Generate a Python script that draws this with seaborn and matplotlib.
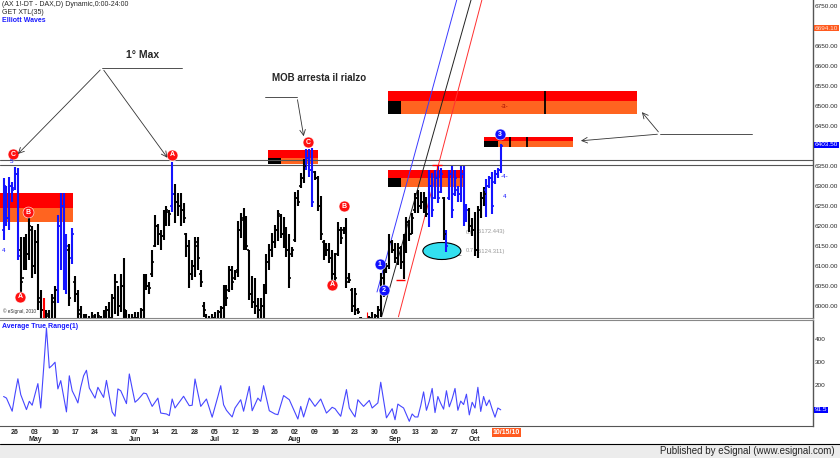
import numpy as np
import pandas as pd
import seaborn as sns
import matplotlib.pyplot as plt
from matplotlib.patches import Rectangle, Ellipse
from matplotlib.transforms import blended_transform_factory as blend

# daily bars (one bar per calendar day from Apr 22 2010)
dates = pd.date_range("2010-04-22", periods=175, freq="D")

highs = [6320, 6300, 6322, 6310, 6348, 6345, 6172, 6172, 6180, 6222,
         6200, 6190, 6205, 6040, 6020, 5990, 5990, 6030, 6050, 6227,
         6282, 6282, 6180, 6155, 6195, 6075, 6040, 6000, 5980, 5980,
         5975, 5985, 5980, 5985, 5975, 5990, 6000, 6010, 6030, 6080,
         6050, 6080, 6120, 5990, 5980, 5980, 5985, 5985, 5995, 6080,
         6080, 6060, 6140, 6227, 6205, 6190, 6240, 6250, 6240, 6360,
         6305, 6282, 6282, 6257, 6182, 6165, 6115, 6172, 6172, 6090,
         6010, 5980, 5975, 5980, 5985, 5990, 6000, 6052, 6052, 6100,
         6100, 6090, 6212, 6232, 6245, 6225, 6140, 6075, 6070, 6020,
         6020, 6055, 6130, 6155, 6182, 6202, 6240, 6230, 6222, 6197,
         6180, 6147, 6285, 6290, 6332, 6367, 6392, 6392, 6395, 6337,
         6325, 6275, 6165, 6157, 6157, 6140, 6132, 6210, 6197, 6197,
         6220, 6082, 6045, 6045, 5995, 5972, 5965, 5965, 5975, 5985,
         5980, 6000, 6082, 6107, 6107, 6180, 6165, 6157, 6157, 6150,
         6180, 6222, 6215, 6232, 6282, 6290, 6285, 6285, 6272, 6340,
         6332, 6340, 6350, 6345, 6272, 6190, 6340, 6350, 6340, 6300,
         6350, 6350, 6255, 6245, 6220, 6235, 6250, 6285, 6297, 6317,
         6325, 6335, 6340, 6345, 6405]
lows = [6165, 6200, 6190, 6260, 6290, 6115, 6030, 6090, 6090, 6115,
        6070, 6080, 5990, 5950, 5950, 5950, 5940, 5950, 5960, 6007,
        6090, 6040, 6030, 6000, 6105, 6010, 5960, 5950, 5940, 5930,
        5930, 5945, 5940, 5940, 5940, 5950, 5950, 5950, 5960, 5980,
        5975, 5985, 5970, 5940, 5930, 5945, 5940, 5950, 5960, 5970,
        6040, 6030, 6072, 6147, 6152, 6140, 6165, 6200, 6200, 6235,
        6207, 6225, 6200, 6207, 6122, 6045, 6065, 6072, 6090, 6047,
        5972, 5940, 5935, 5940, 5945, 5950, 5965, 5970, 6000, 6035,
        6040, 6065, 6072, 6170, 6140, 6140, 6015, 5995, 5980, 5970,
        5970, 5970, 6030, 6090, 6122, 6145, 6162, 6170, 6145, 6122,
        6045, 6122, 6160, 6250, 6295, 6307, 6340, 6322, 6247, 6315,
        6237, 6165, 6115, 6125, 6107, 6057, 6057, 6125, 6155, 6180,
        6045, 6057, 5985, 5977, 5980, 5950, 5940, 5940, 5945, 5950,
        5950, 5960, 5972, 6022, 6082, 6092, 6132, 6107, 6102, 6092,
        6067, 6132, 6162, 6180, 6232, 6232, 6242, 6232, 6222, 6197,
        6222, 6267, 6257, 6282, 6165, 6135, 6265, 6220, 6275, 6260,
        6260, 6200, 6210, 6185, 6175, 6125, 6120, 6220, 6250, 6222,
        6295, 6230, 6305, 6320, 6332]
opens = [6190, 6290, 6220, 6300, 6295, 6330, 6140, 6070, 6150, 6130,
         6190, 6100, 6160, 6020, 5990, 5960, 5975, 5960, 6010, 6040,
         6200, 6250, 6070, 6140, 6120, 6060, 6030, 5990, 5960, 5950,
         5960, 5950, 5970, 5945, 5970, 5955, 5980, 5990, 5970, 6020,
         6060, 6000, 6050, 5985, 5950, 5960, 5960, 5970, 5960, 5990,
         6060, 6050, 6080, 6150, 6200, 6180, 6175, 6220, 6235, 6250,
         6280, 6260, 6250, 6240, 6180, 6150, 6080, 6100, 6150, 6080,
         6000, 5975, 5950, 5960, 5970, 5960, 5985, 5995, 6040, 6040,
         6090, 6070, 6090, 6190, 6215, 6210, 6140, 6030, 6010, 6000,
         5990, 6000, 6040, 6110, 6140, 6160, 6190, 6225, 6180, 6160,
         6140, 6130, 6165, 6270, 6300, 6320, 6350, 6370, 6340, 6335,
         6320, 6250, 6160, 6130, 6140, 6120, 6080, 6130, 6190, 6190,
         6190, 6070, 6040, 6000, 5990, 5970, 5960, 5950, 5950, 5970,
         5960, 5975, 5990, 6070, 6085, 6100, 6160, 6140, 6120, 6145,
         6110, 6160, 6210, 6180, 6240, 6270, 6250, 6260, 6240, 6230,
         6300, 6270, 6320, 6285, 6270, 6180, 6270, 6330, 6280, 6290,
         6280, 6330, 6220, 6240, 6200, 6190, 6140, 6240, 6270, 6290,
         6300, 6320, 6310, 6330, 6340]
closes = [6300, 6220, 6300, 6290, 6330, 6125, 6060, 6150, 6130, 6200,
          6100, 6160, 6010, 5990, 5960, 5980, 5950, 6020, 6040, 6200,
          6250, 6060, 6150, 6020, 6180, 6030, 5980, 5960, 5950, 5960,
          5940, 5975, 5955, 5975, 5950, 5985, 5990, 5970, 6020, 6060,
          6000, 6050, 5990, 5950, 5960, 5970, 5970, 5960, 5990, 6060,
          6050, 6045, 6110, 6200, 6180, 6175, 6220, 6240, 6230, 6280,
          6260, 6250, 6240, 6220, 6150, 6080, 6100, 6160, 6120, 6060,
          5990, 5950, 5960, 5970, 5960, 5985, 5995, 6040, 6020, 6090,
          6060, 6085, 6190, 6220, 6210, 6150, 6030, 6010, 6000, 5990,
          6000, 6040, 6110, 6140, 6160, 6190, 6230, 6180, 6160, 6140,
          6070, 6140, 6270, 6260, 6320, 6350, 6370, 6340, 6260, 6320,
          6250, 6180, 6130, 6140, 6120, 6080, 6070, 6190, 6170, 6190,
          6060, 6065, 6000, 6030, 5985, 5960, 5950, 5955, 5970, 5960,
          5975, 5990, 6070, 6040, 6100, 6160, 6140, 6120, 6145, 6110,
          6160, 6210, 6180, 6220, 6270, 6250, 6260, 6240, 6230, 6300,
          6240, 6320, 6270, 6330, 6180, 6150, 6330, 6240, 6320, 6280,
          6330, 6220, 6240, 6200, 6190, 6140, 6240, 6270, 6280, 6300,
          6320, 6250, 6330, 6340, 6400]

# bars highlighted by the Elliott wave study
blue_bars = [0, 1, 2, 3, 4, 5, 19, 20, 21, 22, 24, 59, 106, 107, 108,
             149, 150, 151, 152, 153, 155, 156, 157, 158, 159, 160, 161, 162,
             169, 170, 171, 172, 173, 174]
red_bars = [14]

atr = [150, 143, 115, 86, 160, 227, 158, 125, 93, 129,
       112, 160, 206, 100, 270, 448, 274, 285, 299, 183,
       219, 150, 83, 240, 175, 150, 122, 190, 240, 264,
       187, 165, 143, 190, 168, 146, 220, 150, 83, 64,
       183, 175, 147, 119, 248, 185, 125, 136, 150, 165,
       162, 135, 107, 125, 143, 78, 76, 74, 67,
       139, 100, 117, 134, 151, 130, 110, 112, 226, 165,
       107, 123, 139, 100, 60, 105, 150, 197, 114, 90,
       75, 61, 100, 118, 136, 86, 140, 194, 88, 115,
       143, 129, 197, 142, 88, 81, 74, 71, 112, 154,
       145, 136, 108, 80, 52, 107, 61, 102, 143, 125,
       107, 123, 139, 108, 78, 90, 103, 97, 80, 64,
       122, 180, 100, 80, 61, 136, 121, 107, 120, 133,
       100, 111, 122, 212, 135, 57, 77, 97, 49,
       117, 108, 100, 71, 42, 74, 61, 61,
       110, 170, 90, 130, 185, 80, 150, 120, 95, 175,
       105, 140, 185, 90, 130, 115, 160, 70, 125, 100,
       190, 85, 150, 110, 135, 95, 60, 100, 92]

# 6700 and 6400 are hidden behind the highlighted price boxes
price_ticks = [6000, 6050, 6100, 6150, 6200, 6250, 6300, 6350, 6450,
               6500, 6550, 6600, 6650, 6750]
atr_ticks = [200, 300, 400]
last_price = 6403.50
target_price = 6694.10
last_atr = 91.5
today = pd.Timestamp("2010-10-15")

# MOB zones: start, end, end of black block, top, middle, bottom (day index / price)
zones = [(-1.3, 24.3, None, 6282.5, 6245, 6210),
         (92.5, 110.0, 97.1, 6390, 6369, 6355),
         (134.5, 161.1, 139.1, 6340, 6320, 6297.5),
         (134.5, 221.7, 139.1, 6537.5, 6512.5, 6480),
         (168.1, 199.3, 173.0, 6422.5, 6412.5, 6397.5)]
zone_marks = [(189.5, 6480, 6537.5), (177.3, 6397.5, 6422.5), (183.3, 6397.5, 6422.5)]
levels = [6365, 6353]
channel = [([130.7, 158.6], [6035, 6765], "#3a3aff"),
           ([132.3, 163.6], [5973, 6765], "#222222"),
           ([138.2, 167.4], [5973, 6765], "#ff3030")]

waves = [("C", 3.3, 6380, "r"), ("A", 5.7, 6022.5, "r"), ("B", 8.5, 6235, "r"),
         ("A", 58.9, 6377.5, "r"), ("C", 106.5, 6410, "r"), ("A", 114.9, 6052.5, "r"),
         ("B", 119.1, 6250, "r"), ("1", 131.7, 6105, "b"), ("2", 133.1, 6040, "b"),
         ("3", 173.8, 6430, "b")]
wave_texts = [("5", 2.9, 6362), ("4", 0.1, 6140), ("-4-", 175.2, 6322.5), ("4", 175.5, 6272.5)]

fib_levels = [("0.6", "(6172.443)", 6185), ("0.7", "(6124.311)", 6137.5)]

sns.set_style("white")
plt.rcParams["font.family"] = ["Liberation Sans", "DejaVu Sans"]

fig = plt.figure(figsize=(8.4, 4.58), dpi=100)
W, H = 840, 458
ax = fig.add_axes([0, 140 / H, 813 / W, 318 / H])
ax2 = fig.add_axes([0, 32 / H, 813 / W, 106 / H])

idx = np.arange(len(highs))
cols = ["black"] * len(highs)
for i in blue_bars:
    cols[i] = "#1414ff"
for i in red_bars:
    cols[i] = "#ff0000"

# zones
for x0, x1, xb, top, mid, bot in zones:
    ax.add_patch(Rectangle((x0, mid), x1 - x0, top - mid, color="#ff0000", lw=0, zorder=1))
    ax.add_patch(Rectangle((x0, bot), x1 - x0, mid - bot, color="#ff6420", lw=0, zorder=1))
    if xb is not None:
        ax.add_patch(Rectangle((x0, bot), xb - x0, mid - bot, color="black", lw=0, zorder=1.1))
for xm, y0, y1 in zone_marks:
    ax.vlines(xm, y0, y1, color="black", lw=1.3, zorder=1.2)
ax.text(175.5, 6500, "-3-", fontsize=4.5, color="#990000", ha="center", va="center", zorder=1.3)

for lv in levels:
    ax.axhline(lv, color="#555555", lw=0.8, zorder=1.5)

ax.add_patch(Ellipse((153.4, 6137.5), 13.3, 42.5, fc="#33e0f0", ec="black", lw=0.8, zorder=1.6))
ax.hlines(6127.5, 148.5, 160.1, color="#aaaaaa", lw=0.7, zorder=1.4)
for a, b, y in fib_levels:
    ax.text(161.6, y, a, fontsize=4.2, color="#999999", va="center", zorder=1.4)
    ax.text(165.6, y, b, fontsize=4.2, color="#999999", va="center", zorder=1.4)

for xs, ys, c in channel:
    ax.plot(xs, ys, color=c, lw=0.7, zorder=1.8)

# bars
ax.vlines(idx, lows, highs, colors=cols, lw=1.5, zorder=2)
ax.hlines(opens, idx - 0.7, idx, colors=cols, lw=1.2, zorder=2)
ax.hlines(closes, idx, idx + 0.7, colors=cols, lw=1.2, zorder=2)

# small red marks
ax.hlines(6352.5, 150, 153.4, color="red", lw=1.0, zorder=2.1)
ax.vlines(151.7, 6340, 6352.5, color="red", lw=0.8, zorder=2.1)
ax.hlines(6065, 137.3, 140.5, color="red", lw=1.0, zorder=2.1)
ax.vlines(127.2, 5970, 5985, color="red", lw=0.8, zorder=2.1)

for lab, x, y, c in waves:
    fc = "#ff1010" if c == "r" else "#1010ff"
    ax.scatter([x], [y], s=62, color=fc, edgecolor="white", lw=0.4, zorder=3)
    ax.text(x, y, lab, fontsize=5, color="white", fontweight="bold",
            ha="center", va="center", zorder=3.1)
for lab, x, y in wave_texts:
    ax.text(x, y, lab, fontsize=4.5, color="#1010ff", ha="center", va="center", zorder=3)

# annotations
ax.text(42.9, 6627.5, "1° Max", fontsize=7.5, fontweight="bold", va="center")
ax.plot([34.5, 62.4], [6595, 6595], color="#333333", lw=0.6)
for tip in [(4.3, 6375), (57.9, 6365)]:
    ax.annotate("", xy=tip, xytext=(34.5, 6595),
                arrowprops=dict(arrowstyle="->", color="#333333", lw=0.6))
ax.text(93.9, 6570, "MOB arresta il rialzo", fontsize=7, fontweight="bold", va="center")
ax.plot([91.5, 102.7], [6522.5, 6522.5], color="#333333", lw=0.6)
ax.annotate("", xy=(105.2, 6417.5), xytext=(102.7, 6522.5),
            arrowprops=dict(arrowstyle="->", color="#333333", lw=0.6))
ax.plot([229.8, 262], [6430, 6430], color="#333333", lw=0.6)
for tip in [(222.8, 6490), (201.1, 6412.5)]:
    ax.annotate("", xy=tip, xytext=(229.8, 6430),
                arrowprops=dict(arrowstyle="->", color="#333333", lw=0.6))

ax.set_xlim(-1.26, 283.3)
ax.set_ylim(5970, 6765)
ax.yaxis.tick_right()
ax.set_yticks(price_ticks)
ax.set_yticklabels([f"{p:.2f}" for p in price_ticks])
ax.tick_params(axis="y", length=0, pad=1, labelsize=4.6)
ax.set_xticks([])
bt = blend(ax.transAxes, ax.transData)
ax.text(1.002, target_price, f"{target_price:.2f}", transform=bt, fontsize=4.6, color="#ffe0d0",
        va="center", ha="left", bbox=dict(fc="#ff5a1f", ec="none", pad=0.4))
ax.text(1.002, last_price, f"{last_price:.2f}", transform=bt, fontsize=4.6, color="white",
        va="center", ha="left", bbox=dict(fc="#0000ff", ec="none", pad=0.4))
ax.text(0.004, 0.015, "© eSignal, 2010", transform=ax.transAxes, fontsize=3.3, color="#333333")

# ATR panel
sns.lineplot(x=np.arange(len(atr)), y=atr, ax=ax2, color="#4646ff", lw=0.8)
ax2.set_xlim(-1.26, 283.3)
ax2.set_ylim(21.7, 482.6)
ax2.set_xlabel("")
ax2.set_ylabel("")
ax2.yaxis.tick_right()
ax2.set_yticks(atr_ticks)
ax2.set_yticklabels([str(t) for t in atr_ticks])
ax2.tick_params(axis="y", length=0, pad=1, labelsize=4.6)
bt2 = blend(ax2.transAxes, ax2.transData)
ax2.text(1.002, last_atr, f"{last_atr}", transform=bt2, fontsize=4.6, color="white",
         va="center", ha="left", bbox=dict(fc="#0000ff", ec="none", pad=0.4))
ax2.text(0.003, 0.97, "Average True Range(1)", transform=ax2.transAxes, fontsize=5,
         color="#1a1aff", fontweight="bold", va="top")

all_days = pd.date_range(dates[0], today, freq="D")
tick_pos, tick_lab = [], []
for i, d in enumerate(all_days):
    if d.weekday() == 0 and d < pd.Timestamp("2010-10-10"):
        tick_pos.append(i)
        tick_lab.append(d.strftime("%d") + ("\n" + d.strftime("%b") if d.day <= 7 else ""))
ax2.set_xticks(tick_pos)
ax2.set_xticklabels(tick_lab, fontsize=5, fontweight="bold", linespacing=0.95)
ax2.tick_params(axis="x", length=0, pad=2.5)
ax2.text(len(all_days) - 1, -0.03, today.strftime("%m/%d/%y"), transform=blend(ax2.transData, ax2.transAxes),
         ha="center", va="top", fontsize=5, color="white", fontweight="bold",
         bbox=dict(boxstyle="square,pad=0.15", fc="#ff5a1f", ec="none"))

for a in (ax, ax2):
    a.spines["left"].set_visible(False)
    a.spines["right"].set_color("#555555")
    a.spines["right"].set_linewidth(1.0)
ax.spines["top"].set_visible(False)
ax.spines["bottom"].set_color("#888888")
ax2.spines["top"].set_color("#888888")
ax2.spines["bottom"].set_color("#555555")

# header texts
fig.text(2 / W, 1 - 5 / H, "(AX 1!-DT - DAX,D) Dynamic,0:00-24:00", fontsize=5, va="center")
fig.text(2 / W, 1 - 13 / H, "GET XTL(35)", fontsize=5, va="center")
fig.text(2 / W, 1 - 21 / H, "Elliott Waves", fontsize=5, va="center", color="#1a1aff", fontweight="bold")

# status bar
fig.add_artist(Rectangle((0, 0), 1, 14 / H, transform=fig.transFigure, color="#ececec", lw=0))
fig.add_artist(plt.Line2D([0, 1], [14 / H, 14 / H], transform=fig.transFigure, color="black", lw=0.8))
fig.text(835 / W, 7 / H, "Published by eSignal (www.esignal.com)", fontsize=7, ha="right", va="center")

fig.savefig("out.png", dpi=100)
